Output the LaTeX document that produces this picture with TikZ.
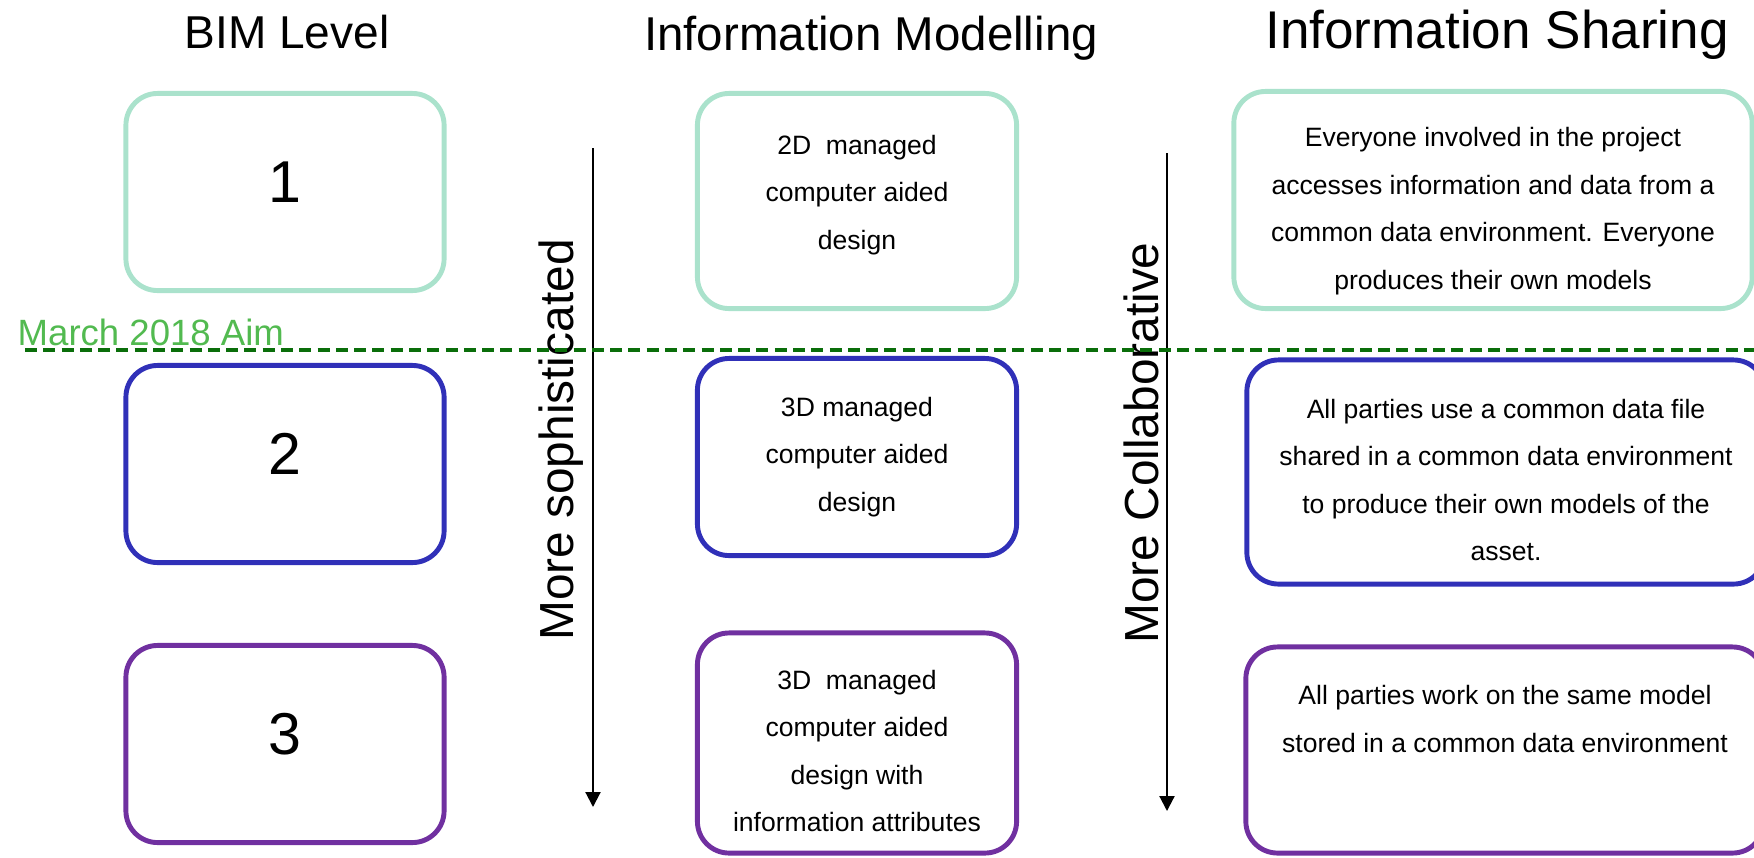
\documentclass[tikz,border=0pt]{standalone}
\usepackage{fontspec}
\setmainfont{Liberation Sans}
\usetikzlibrary{arrows.meta}
\definecolor{lvone}{RGB}{170,226,204}
\definecolor{lvtwo}{RGB}{48,48,184}
\definecolor{lvthree}{RGB}{112,48,160}
\definecolor{aimline}{RGB}{10,110,10}
\definecolor{aimtext}{RGB}{82,186,80}
\begin{document}
\begin{tikzpicture}[x=0.01cm,y=-0.01cm,
  box/.style={draw,line width=1.4pt,rounded corners=9pt,inner sep=0pt},
  lvbox/.style={box,minimum width=3.18cm,minimum height=1.97cm,
    font=\fontsize{16.8}{20}\selectfont,text height=0.42cm,text depth=0.22cm},
  modelbox/.style={box,minimum width=3.19cm},
  sharebox/.style={box,minimum width=5.18cm},
  boxtext/.style={align=center,inner sep=0pt,font=\fontsize{7.55}{13.5}\selectfont},
  title/.style={anchor=base,inner sep=0pt},
  trend/.style={-{Triangle[length=0.15cm,width=0.15cm]},line width=0.6pt},
  trendlabel/.style={rotate=90,font=\fontsize{13.6}{16}\selectfont}]
\useasboundingbox (0,0) rectangle (1754,857);
% column titles
\node[title,font=\fontsize{13.1}{16}\selectfont] (lvtitle) at (287,48) {BIM Level};
\node[title,font=\fontsize{13.5}{16}\selectfont] (modeltitle) at (871,50) {Information Modelling};
\node[title,font=\fontsize{15.1}{18}\selectfont] (sharetitle) at (1497,48) {Information Sharing};
% levels
\node[lvbox,draw=lvone] (lv1) at (285,192) {1};
\node[lvbox,draw=lvtwo] (lv2) at (285,464) {2};
\node[lvbox,draw=lvthree] (lv3) at (285,744) {3};
% information modelling
\node[modelbox,draw=lvone,minimum height=2.15cm] (model1) at (857,201) {};
\node[modelbox,draw=lvtwo,minimum height=1.97cm] (model2) at (857,457) {};
\node[modelbox,draw=lvthree,minimum height=2.20cm] (model3) at (857,743) {};
\node[boxtext] (model1text) at (857,195) {2D~ managed\\computer aided\\design};
\node[boxtext] (model2text) at (857,457) {3D managed\\computer aided\\design};
\node[boxtext] (model3text) at (857,751)
  {3D~ managed\\computer aided\\design with\\information attributes};
% information sharing
\node[sharebox,draw=lvone,minimum height=2.17cm] (share1) at (1493,200) {};
\node[sharebox,draw=lvtwo,minimum height=2.24cm] (share2) at (1506,472) {};
\node[sharebox,draw=lvthree,minimum height=2.06cm] (share3) at (1505,750) {};
\node[boxtext] (share1text) at (1493,211)
  {Everyone involved in the project\\accesses information and data from a\\common data environment. Everyone\\produces their own models};
\node[boxtext] (share2text) at (1506,480)
  {All parties use a common data file\\shared in a common data environment\\to produce their own models of the\\asset.};
\node[boxtext] (share3text) at (1505,719)
  {All parties work on the same model\\stored in a common data environment};
% trends
\coordinate (sophtop) at (593,148);
\coordinate (sophend) at (593,807);
\draw[trend] (sophtop) -- (sophend);
\node[trendlabel] (sophlabel) at (561,440) {More sophisticated};
\coordinate (colltop) at (1167,153);
\coordinate (collend) at (1167,811);
\draw[trend] (colltop) -- (collend);
\node[trendlabel] (colllabel) at (1141,443) {More Collaborative};
% aim line
\coordinate (aimstart) at (25,350);
\coordinate (aimend) at (1760,350);
\draw[aimline,line width=1.1pt,dash pattern=on 3.4pt off 1.8pt] (aimstart) -- (aimend);
\node[anchor=base west,inner sep=0pt,text=aimtext,font=\fontsize{10.4}{12}\selectfont] (aimlabel) at (17,345) {March 2018 Aim};
\end{tikzpicture}
\end{document}
